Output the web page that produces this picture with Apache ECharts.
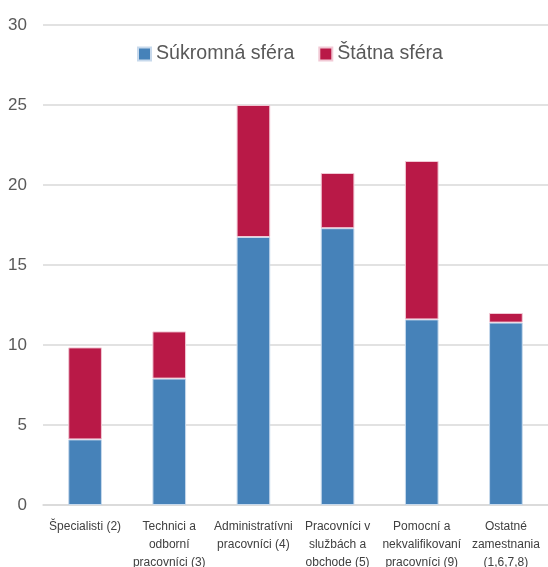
<!DOCTYPE html>
<html>
<head>
<meta charset="utf-8">
<script src="https://cdn.jsdelivr.net/npm/echarts@6/dist/echarts.min.js"></script>
<style>
  html, body { margin: 0; padding: 0; background: #fff; }
  #chart { width: 548px; height: 567px; }
</style>
</head>
<body>
<div id="chart"></div>
<script>
  // kategórie povolaní
  var categories = [
    'Špecialisti (2)',
    'Technici a\nodborní\npracovníci (3)',
    'Administratívni\npracovníci (4)',
    'Pracovníci v\nslužbách a\nobchode (5)',
    'Pomocní a\nnekvalifikovaní\npracovníci (9)',
    'Ostatné\nzamestnania\n(1,6,7,8)'
  ];
  var seriesNames = ['Súkromná sféra', 'Štátna sféra'];
  var privateValues = [4.1, 7.9, 16.75, 17.3, 11.6, 11.4];
  var stateValues = [5.75, 2.95, 8.25, 3.45, 9.9, 0.6];
  var yTicks = [0, 5, 10, 15, 20, 25, 30];

  var font = '"Liberation Sans Narrow", "Arial Narrow", "Liberation Sans", sans-serif';
  var chart = echarts.init(document.getElementById('chart'));

  var option = {
    backgroundColor: '#ffffff',
    animation: false,
    legend: {
      top: 39,
      left: 132,
      itemWidth: 13,
      itemHeight: 13,
      itemGap: 24,
      icon: 'rect',
      data: seriesNames,
      textStyle: { fontFamily: font, fontSize: 19.6, color: '#595959' }
    },
    grid: { left: 43, right: 0, top: 25, bottom: 62, containLabel: false, outerBoundsMode: 'none' },
    xAxis: {
      type: 'category',
      data: categories,
      axisLine: { lineStyle: { color: '#d9d9d9', width: 1.5 } },
      axisTick: { show: false },
      axisLabel: {
        interval: 0,
        margin: 13,
        fontFamily: font,
        fontSize: 12,
        lineHeight: 18,
        color: '#404040'
      }
    },
    yAxis: {
      type: 'value',
      min: yTicks[0],
      max: yTicks[yTicks.length - 1],
      interval: 5,
      axisLine: { show: false },
      axisTick: { show: false },
      splitLine: { lineStyle: { color: '#d9d9d9', width: 1.5 } },
      axisLabel: {
        margin: 16,
        fontFamily: font,
        fontSize: 17,
        color: '#595959'
      }
    },
    series: [
      {
        name: seriesNames[0],
        type: 'bar',
        stack: 'total',
        barWidth: '40%',
        data: privateValues,
        itemStyle: { color: '#4682b9', borderColor: '#c7d9ec', borderWidth: 1 }
      },
      {
        name: seriesNames[1],
        type: 'bar',
        stack: 'total',
        barWidth: '40%',
        data: stateValues,
        itemStyle: { color: '#b91947', borderColor: '#f1c9d5', borderWidth: 1 }
      }
    ]
  };

  chart.setOption(option);
</script>
</body>
</html>
